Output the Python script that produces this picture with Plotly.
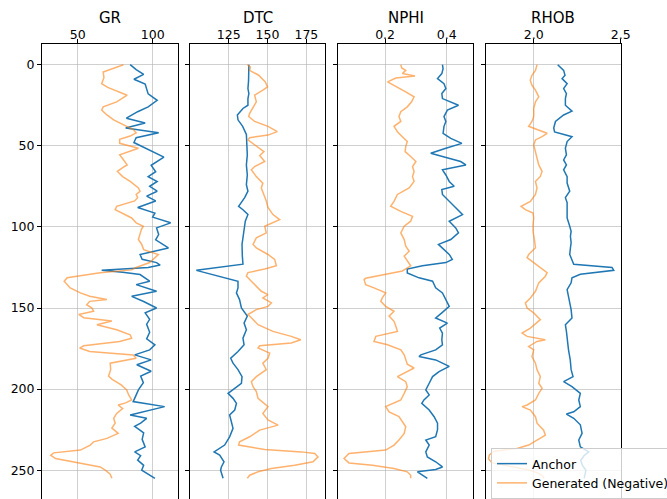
import plotly.graph_objects as go

# ---------------- data ----------------
gr_anchor_depth = [0, 3, 6, 9, 12, 15, 18, 22, 26, 29, 33, 36, 39, 42, 45, 48, 52, 57, 62, 66, 69, 72, 75, 78, 81, 84, 88, 91.5, 94, 97.5, 100.6, 104.7, 108, 113, 117, 120, 122, 123.5, 125, 126.8, 128, 129.4, 133.5, 135.6, 139.7, 142.8, 146, 150, 153, 157, 160, 165, 169, 172.7, 175.8, 178.9, 182, 185, 189, 192, 196, 200.5, 205.7, 207.7, 210.8, 213, 216, 218, 221, 223, 227, 231, 235.6, 238.7, 241, 243.8, 247, 250, 255]
gr_anchor = [85, 89, 94, 87.5, 95, 96, 97, 103, 97, 90, 82.5, 95, 82, 104, 89, 87.5, 96, 107.5, 99, 102, 97, 103, 98, 103, 96, 102, 90, 101.5, 100, 112, 102.6, 104, 102, 110.5, 91.6, 93, 102.6, 105, 97, 66, 80, 91.6, 98, 89, 102.6, 86, 94, 102.6, 95, 98, 96, 98, 96, 101.5, 98, 88, 99, 89.4, 99, 92, 93.8, 90.5, 88, 87, 108, 98, 85, 96, 92, 88, 94, 93, 95, 88, 92, 90, 94, 92.7, 101.5]

gr_gen_depth = [0, 1.4, 4.5, 8, 11.7, 14, 16.8, 18.8, 22.9, 26, 28, 31, 34, 38, 40, 42, 44, 46, 48.5, 51.5, 53.5, 55.6, 58, 61.8, 63.5, 65.8, 69, 72, 76, 78, 80, 82, 84, 87.3, 89.4, 91.5, 94.5, 97.5, 99.6, 101.5, 104.7, 107.8, 110.8, 114, 117, 119, 122, 125, 126.5, 128.2, 131.3, 133.5, 137.6, 140.7, 142.8, 144.8, 145.9, 148, 150, 152, 154, 156, 158, 160.3, 163.4, 166.5, 168.6, 170.6, 173.3, 174.7, 176.8, 178.9, 181, 184, 188, 192, 194, 197.4, 200.5, 203.6, 206.7, 208.5, 209.8, 212, 215, 218, 221, 224, 227.3, 230.4, 232.5, 234.5, 237.6, 239.3, 240.7, 242.8, 245.9, 248, 250, 252.5, 255]
gr_gen = [80.5, 76, 67, 67.5, 66, 70, 78, 83, 76, 67, 66, 69.5, 74, 83, 87, 89, 85, 78, 78, 90.5, 84, 78, 80, 83, 80, 76.5, 80, 85, 90.5, 91.6, 89, 90, 88, 76, 75, 80, 86, 89, 93.8, 92.5, 91.5, 90.5, 92.7, 94, 103.8, 101.5, 98, 89, 86, 65, 43, 41, 45, 51.8, 58, 69.5, 58, 56, 59.5, 60.6, 50.7, 54, 72.8, 62.8, 76, 85, 86, 78, 54, 51.3, 58, 87, 89, 71.7, 72, 70.6, 73, 79, 82.7, 84, 86, 82, 77, 80, 76, 74, 75, 72.8, 77, 69.5, 60.6, 58.4, 51.8, 34, 32, 35.2, 54, 65, 68.4, 71.7, 72.8]

dtc_anchor_depth = [0, 6, 10, 14.7, 17.8, 20.9, 25, 27, 31, 34, 38, 43, 49.5, 55.6, 61.8, 68, 74, 78, 82, 87.3, 89.4, 92.4, 96.5, 102.7, 110.8, 118, 123, 126.8, 133.5, 137.6, 140.7, 144.8, 150, 155, 159.3, 163.4, 168.6, 172.7, 176.8, 181, 184, 188, 192.3, 196.4, 200.5, 202.6, 205.7, 208.8, 212.9, 216, 220, 224.2, 229.4, 234.5, 238.7, 240.7, 244.8, 248, 250, 255]
dtc_anchor = [138, 138, 137.8, 137.4, 138, 137.4, 137.4, 134.2, 130.6, 131, 134, 136.4, 136.8, 137, 136.4, 137, 136.4, 137.4, 135.3, 131.4, 134.2, 137.4, 135.7, 134.9, 133.6, 133.8, 134.2, 104.2, 131, 131, 130, 132, 133.2, 137, 134.9, 136.4, 134.2, 134.9, 131, 126.3, 127.8, 131, 133.6, 133.2, 127.8, 124.6, 127.8, 130, 128.9, 125.6, 126.7, 127.8, 125.6, 122.4, 115.6, 119.2, 122, 120.3, 119.8, 121.4]

dtc_gen_depth = [0, 1.4, 3.5, 6.5, 10.6, 13.7, 15.7, 18.8, 22.9, 26, 30, 32, 35, 38, 41.3, 43.4, 45, 46.4, 48.5, 51.5, 53.6, 56, 59.7, 62.8, 64.8, 69, 73, 76, 80, 84, 88, 92.4, 95.5, 97.5, 99.6, 103.7, 106.7, 110.8, 113, 117, 120, 124, 126, 128.2, 130.3, 133.5, 136.6, 139.7, 141.8, 143.8, 146.9, 149, 151, 154, 156, 160.3, 164.4, 167.5, 169.6, 171.6, 173.3, 174.7, 177.8, 181, 184, 188, 192.3, 195.4, 198.5, 201.5, 205.7, 210.8, 215, 219, 222.2, 225.3, 229.4, 232.5, 234.5, 237.2, 238.7, 239.7, 241.8, 244.8, 247, 249, 251, 253.1, 255]
dtc_gen = [137, 139, 138.5, 144.3, 148.6, 150, 147, 141.7, 142.8, 140.7, 138.5, 137.9, 141.7, 150.3, 156.3, 150.3, 138.5, 137.4, 140.5, 145, 147.7, 145, 148.2, 141.7, 139.6, 142.8, 147, 146, 147.7, 149.2, 150.3, 153.5, 157.8, 152.5, 148.2, 149.2, 142.8, 140.7, 142.8, 150.3, 154.6, 155.7, 148.2, 137.4, 136.4, 139.6, 142.8, 146, 150.3, 147, 152.5, 150.3, 142.8, 137.4, 139.6, 143.9, 153.5, 165.3, 171.4, 165.3, 145, 143.9, 151.4, 150.3, 147, 149.2, 142.8, 139.6, 140.7, 142.8, 143.9, 150.3, 147, 150.3, 156.8, 145, 138.5, 132, 131.4, 148.2, 171.8, 180.4, 182.5, 179.3, 167.5, 152.5, 143.9, 138.5, 137]

nphi_anchor_depth = [0, 2.5, 5.5, 8.6, 11.7, 14.7, 17.8, 20.9, 25, 28, 32, 35, 38, 42.3, 45.4, 48.5, 51.5, 54.6, 56.6, 59.7, 61.8, 64.8, 68, 72, 75, 77, 80, 84.3, 88.3, 92.4, 96.5, 100.6, 103.7, 107.8, 110.8, 113.9, 117, 120, 122, 124, 126, 128.4, 131.4, 133.5, 137.6, 140.7, 144.8, 149, 153, 156.2, 159.3, 162.4, 165.5, 169.6, 172.7, 175.8, 178.9, 179.9, 182, 186, 189.2, 192.3, 196.4, 200.5, 203.6, 206.7, 208.8, 212.9, 217, 221, 225, 229.4, 231.4, 234.5, 238.7, 241.8, 244.8, 248, 249.6, 251, 253, 255]
nphi_anchor = [0.386, 0.388, 0.384, 0.370, 0.391, 0.397, 0.384, 0.386, 0.438, 0.402, 0.391, 0.397, 0.391, 0.388, 0.413, 0.449, 0.397, 0.348, 0.386, 0.445, 0.462, 0.386, 0.397, 0.408, 0.424, 0.384, 0.386, 0.408, 0.429, 0.451, 0.408, 0.429, 0.438, 0.413, 0.373, 0.391, 0.408, 0.418, 0.397, 0.321, 0.272, 0.272, 0.310, 0.354, 0.364, 0.386, 0.397, 0.408, 0.384, 0.364, 0.402, 0.377, 0.386, 0.384, 0.386, 0.364, 0.316, 0.310, 0.364, 0.408, 0.375, 0.354, 0.343, 0.332, 0.343, 0.326, 0.319, 0.343, 0.359, 0.370, 0.370, 0.364, 0.332, 0.343, 0.332, 0.337, 0.364, 0.386, 0.364, 0.305, 0.321, 0.337]

nphi_gen_depth = [0, 2, 3.5, 5.5, 7, 8.2, 10.6, 13.7, 16.8, 19.8, 22.9, 26, 29, 32, 35, 38, 41.3, 44.4, 47.4, 50.5, 53.6, 56.6, 59.7, 62.8, 65.8, 69, 72, 76, 80, 84.3, 87.3, 90.4, 93.5, 96.5, 99.6, 103.7, 107.8, 111.9, 115, 118, 121, 124, 127.2, 129.2, 131.7, 132.5, 135.6, 137.6, 140.7, 143.8, 145.9, 149, 152, 155, 158.2, 161.3, 164.4, 167.5, 170.6, 172.7, 175.8, 178.9, 182, 184.7, 187, 189.2, 192.3, 195.4, 198.5, 202.6, 206.7, 210.8, 214, 217, 220, 223.2, 227.3, 231.4, 234.5, 237.6, 239.7, 242.8, 245.5, 247, 249, 251, 253.1, 255]
nphi_gen = [0.251, 0.254, 0.267, 0.256, 0.297, 0.235, 0.208, 0.240, 0.267, 0.294, 0.286, 0.272, 0.251, 0.245, 0.251, 0.229, 0.240, 0.256, 0.272, 0.267, 0.265, 0.283, 0.300, 0.289, 0.294, 0.289, 0.294, 0.278, 0.240, 0.229, 0.218, 0.251, 0.289, 0.283, 0.262, 0.251, 0.262, 0.267, 0.278, 0.262, 0.272, 0.283, 0.256, 0.197, 0.137, 0.132, 0.137, 0.164, 0.202, 0.191, 0.186, 0.202, 0.229, 0.213, 0.229, 0.235, 0.240, 0.170, 0.164, 0.208, 0.251, 0.262, 0.267, 0.272, 0.294, 0.272, 0.240, 0.267, 0.272, 0.262, 0.251, 0.202, 0.213, 0.245, 0.256, 0.267, 0.262, 0.245, 0.229, 0.202, 0.083, 0.067, 0.083, 0.159, 0.229, 0.272, 0.283, 0.283]

rhob_anchor_depth = [0, 3.5, 6.5, 8.6, 11.7, 14.7, 17.8, 20.9, 25, 28.6, 31, 35, 39, 41.5, 44.4, 47.4, 51.5, 55.6, 58.7, 61.8, 64.8, 69, 73, 78, 82, 85, 89.4, 94.5, 99.6, 102.7, 105.8, 109.8, 113, 117, 123, 125, 126.8, 129.2, 131.4, 134.5, 138.7, 142.8, 146.9, 151, 156.2, 160.3, 164.4, 169.6, 175.8, 182, 188, 192.3, 195.4, 198.5, 202.6, 206.7, 210.8, 214, 215.4, 218, 222, 227.3, 231.4, 235.6, 238.7, 241, 244, 247, 250, 255]
rhob_anchor = [2.138, 2.172, 2.18, 2.163, 2.192, 2.172, 2.188, 2.182, 2.182, 2.22, 2.172, 2.125, 2.115, 2.12, 2.22, 2.192, 2.182, 2.188, 2.172, 2.188, 2.172, 2.192, 2.192, 2.207, 2.182, 2.192, 2.192, 2.192, 2.207, 2.215, 2.211, 2.215, 2.211, 2.207, 2.23, 2.45, 2.46, 2.268, 2.22, 2.215, 2.192, 2.2, 2.21, 2.215, 2.22, 2.182, 2.188, 2.192, 2.2, 2.21, 2.215, 2.226, 2.172, 2.22, 2.268, 2.259, 2.268, 2.23, 2.188, 2.23, 2.268, 2.278, 2.259, 2.268, 2.316, 2.29, 2.27, 2.28, 2.30, 2.29]

rhob_gen_depth = [0, 3.5, 6.5, 9.6, 12.7, 15.7, 19.8, 22.9, 27, 32, 35, 38, 40, 42.3, 44.4, 46.4, 49.5, 53.6, 57.7, 61.8, 65.8, 68.9, 72, 76, 80, 84.3, 87.3, 89.4, 91.4, 94.5, 98.6, 102.7, 107.8, 112.9, 117, 119, 122, 125, 128.2, 130.4, 134.5, 139.7, 143.8, 146.9, 150, 153, 157.2, 162.4, 165.5, 167.5, 169.6, 170.6, 173.7, 175.8, 180, 184, 188, 192.3, 196.4, 199.5, 202.6, 206.7, 209.8, 210.8, 212.9, 217, 221, 225.3, 228.4, 231.4, 234.5, 236.6, 238.4, 240.5, 243, 245.5, 247.5, 249.5, 251.5, 253.5, 255]
rhob_gen = [2.019, 2.01, 1.99, 1.98, 1.99, 2.01, 2.029, 2.01, 2.0, 2.0, 1.99, 1.971, 2.019, 2.077, 2.048, 2.01, 2.0, 2.01, 2.019, 2.029, 2.048, 2.038, 2.01, 2.019, 2.01, 1.981, 1.927, 1.952, 1.996, 2.0, 1.996, 1.996, 2.004, 2.01, 1.971, 1.962, 2.0, 2.038, 2.077, 2.067, 2.029, 2.01, 1.981, 1.952, 1.962, 2.0, 2.038, 1.981, 1.933, 1.962, 2.067, 2.019, 1.971, 2.0, 1.99, 2.01, 2.019, 2.038, 2.029, 2.048, 2.029, 2.01, 1.962, 1.933, 1.981, 2.01, 2.019, 2.057, 2.067, 2.019, 1.971, 1.904, 1.77, 1.745, 1.74, 1.76, 1.86, 1.96, 2.02, 2.05, 2.06]

track_names = ["GR", "DTC", "NPHI", "RHOB"]
x_ranges = [[26.2, 116.9], [100.3, 187.2], [0.0474, 0.486], [1.724, 2.5]]
x_tickvals = [[50, 100], [125, 150, 175], [0.2, 0.4], [2.0, 2.5]]
x_ticktext = [["50", "100"], ["125", "150", "175"], ["0.2", "0.4"], ["2.0", "2.5"]]
depth_ticks = [0, 50, 100, 150, 200, 250]
series_names = ["Anchor", "Generated (Negative)"]

anchors = [(gr_anchor_depth, gr_anchor), (dtc_anchor_depth, dtc_anchor),
           (nphi_anchor_depth, nphi_anchor), (rhob_anchor_depth, rhob_anchor)]
gens = [(gr_gen_depth, gr_gen), (dtc_gen_depth, dtc_gen),
        (nphi_gen_depth, nphi_gen), (rhob_gen_depth, rhob_gen)]

# ---------------- layout ----------------
W, H = 667, 499
px_domains = [(42, 178), (190.3, 325.3), (338, 473.3), (485.7, 620.7)]
y_top_px = 44
FONT = "DejaVu Sans"
TICK_SIZE = 12.5
TITLE_SIZE = 15
BLUE = "#1f77b4"
ORANGE = "rgba(255,127,14,0.6)"
GRID = "rgba(176,176,176,0.6)"

fig = go.Figure()
layout = dict(
    width=W, height=H,
    margin=dict(l=0, r=0, t=0, b=0, autoexpand=False),
    paper_bgcolor="white", plot_bgcolor="white",
    font=dict(family=FONT, size=TICK_SIZE, color="#000"),
    showlegend=True,
    legend=dict(x=491 / W, y=1 - 448 / H, xanchor="left", yanchor="top",
                bgcolor="rgba(255,255,255,0.8)", bordercolor="#cccccc", borderwidth=1,
                font=dict(size=TICK_SIZE, family=FONT), tracegroupgap=0),
    annotations=[],
)

for i in range(4):
    xa = "x" if i == 0 else f"x{i+1}"
    ya = "y" if i == 0 else f"y{i+1}"
    xkey = "xaxis" if i == 0 else f"xaxis{i+1}"
    ykey = "yaxis" if i == 0 else f"yaxis{i+1}"
    d0, d1 = px_domains[i]
    layout[xkey] = dict(
        domain=[d0 / W, d1 / W], anchor=ya, side="top", range=x_ranges[i],
        tickvals=x_tickvals[i], ticktext=x_ticktext[i],
        showgrid=True, gridcolor=GRID, gridwidth=1,
        showline=True, linecolor="black", linewidth=1, mirror=True,
        ticks="outside", ticklen=4, tickcolor="black", zeroline=False,
        tickfont=dict(size=TICK_SIZE, family=FONT), ticklabelstandoff=-5,
    )
    layout[ykey] = dict(
        domain=[0, 1 - y_top_px / H], anchor=xa, range=[267.75, -12.75],
        tickvals=depth_ticks, showticklabels=(i == 0),
        showgrid=True, gridcolor=GRID, gridwidth=1,
        showline=True, linecolor="black", linewidth=1, mirror=True,
        ticks="outside", ticklen=4, tickcolor="black", zeroline=False,
        tickfont=dict(size=TICK_SIZE, family=FONT),
    )
    if i > 0:
        layout[ykey]["matches"] = "y"
    layout["annotations"].append(dict(
        text=track_names[i], x=(d0 + d1) / 2 / W, y=1 - 18 / H,
        xref="paper", yref="paper", xanchor="center", yanchor="middle",
        showarrow=False, font=dict(size=TITLE_SIZE, family=FONT, color="#000"),
    ))

    ad, av = anchors[i]
    gd, gv = gens[i]
    fig.add_trace(go.Scatter(x=av, y=ad, mode="lines", name=series_names[0],
                             line=dict(color=BLUE, width=1.5), xaxis=xa, yaxis=ya,
                             showlegend=(i == 0), legendgroup="a"))
    fig.add_trace(go.Scatter(x=gv, y=gd, mode="lines", name=series_names[1],
                             line=dict(color=ORANGE, width=1.5), xaxis=xa, yaxis=ya,
                             showlegend=(i == 0), legendgroup="g"))

fig.update_layout(**layout)
fig.write_html("out.html", config={"displayModeBar": False},
               post_script="document.body.style.margin='0';document.body.style.overflow='hidden';")
